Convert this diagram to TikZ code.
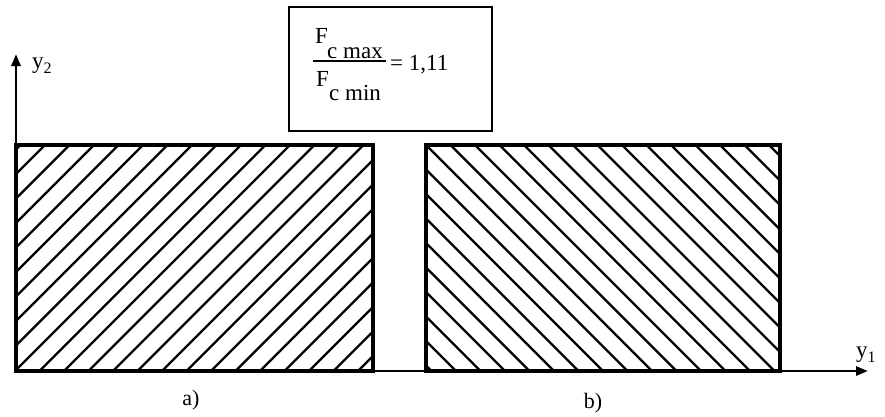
\documentclass[tikz,border=0pt]{standalone}
\usepackage{fontspec}
\setmainfont{Liberation Serif}
\usetikzlibrary{arrows.meta}
\begin{document}
\begin{tikzpicture}[x=1pt,y=-1pt,
  frame/.style={line width=3.4pt},
  hatchline/.style={line width=2.4pt},
  axis/.style={line width=2.6pt,-{Triangle[length=12pt,width=9pt]}},
  thinaxis/.style={line width=1.2pt},
  txt/.style={inner sep=0pt,anchor=base west,font=\fontsize{23}{25}\selectfont},
  lbl/.style={inner sep=0pt,anchor=base,font=\fontsize{22}{24}\selectfont}]
\fill[white] (0,0) rectangle (885,416);
\useasboundingbox (0,0) rectangle (885,416);
% named points
\coordinate (O) at (16,371);
\coordinate (ytip) at (16,54);
\coordinate (xtip) at (868,371);
\coordinate (aTL) at (16,145);
\coordinate (aBR) at (373,371);
\coordinate (bTL) at (426,145);
\coordinate (bBR) at (780,371);
\coordinate (boxTL) at (289,7);
\coordinate (boxBR) at (492,131);
% hatching a
\begin{scope}
\clip (aTL) rectangle (aBR);
\foreach \k in {-2,...,24} {
  \pgfmathsetmacro{\c}{190+24.5*\k}
  \draw[hatchline] (\c-420,420) -- (\c-100,100);
}
\end{scope}
% hatching b
\begin{scope}
\clip (bTL) rectangle (bBR);
\foreach \k in {-11,...,16} {
  \pgfmathsetmacro{\c}{281+24.5*\k}
  \draw[hatchline] (\c+100,100) -- (\c+420,420);
}
\end{scope}
% axes
\draw[thinaxis] (O) -- (bBR);
\draw[axis] (bBR) -- (xtip);
\draw[axis] (O) -- (ytip);
% rectangles
\draw[frame] (aTL) rectangle (aBR);
\draw[frame] (bTL) rectangle (bBR);
% formula box
\draw[line width=2.8pt] (boxTL) rectangle (boxBR);
\node[txt] (fnum) at (315,43) {F};
\node[txt] (snum) at (327,58) {c max};
\coordinate (barL) at (313,61);
\coordinate (barR) at (386,61);
\draw[line width=2pt] (barL) -- (barR);
\node[txt] (fden) at (316,86) {F};
\node[txt] (sden) at (329,100) {c min};
\node[txt] (eq) at (390,70) {= 1,11};
% labels
\node[lbl] (la) at (191,405) {a)};
\node[lbl] (lb) at (593,408) {b)};
\node[inner sep=0pt,anchor=base west,font=\fontsize{23}{25}\selectfont] (y2) at (32,68) {y\raisebox{-0.25em}{\fontsize{16}{17}\selectfont 2}};
\node[inner sep=0pt,anchor=base west,font=\fontsize{23}{25}\selectfont] (y1) at (856,357) {y\raisebox{-0.25em}{\fontsize{16}{17}\selectfont 1}};
\end{tikzpicture}
\end{document}
